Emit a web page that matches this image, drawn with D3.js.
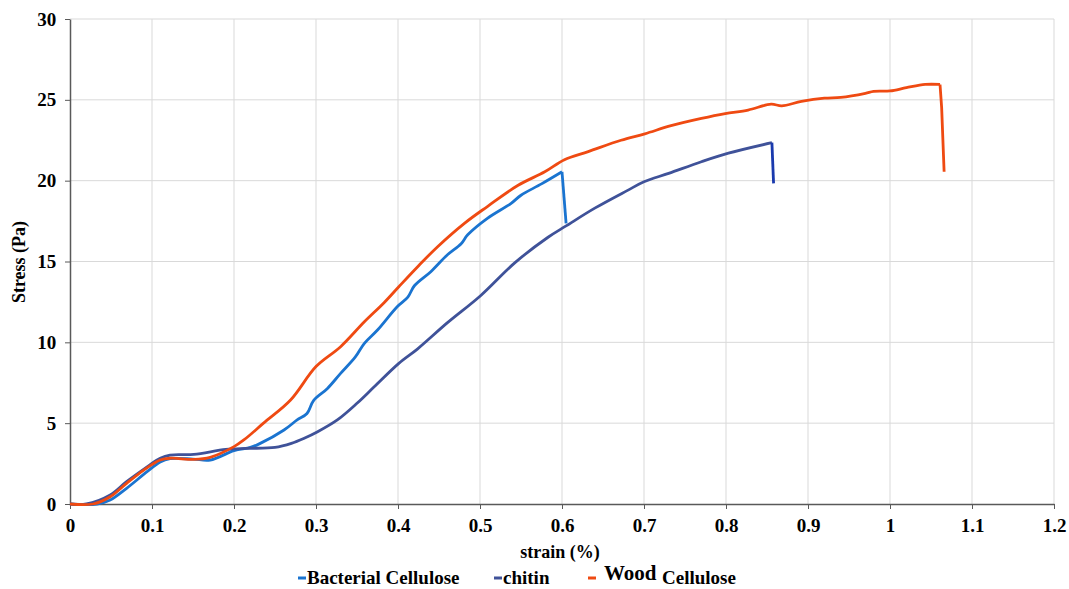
<!DOCTYPE html>
<html>
<head>
<meta charset="utf-8">
<script src="https://cdn.jsdelivr.net/npm/d3@7"></script>
<style>
  body { margin: 0; background: #fff; }
  svg text { font-family: "Liberation Serif", "Times New Roman", Tinos, "Nimbus Roman", FreeSerif, "DejaVu Serif", serif; font-weight: bold; }
</style>
</head>
<body>
<div id="chart"></div>
<script>
// chart values
const xTicks = [0, 0.1, 0.2, 0.3, 0.4, 0.5, 0.6, 0.7, 0.8, 0.9, 1, 1.1, 1.2];
const yTicks = [0, 5, 10, 15, 20, 25, 30];

const bcStrain = [0, 0.033, 0.049, 0.069, 0.094, 0.11, 0.122, 0.15, 0.171, 0.2, 0.22, 0.232, 0.261, 0.277, 0.289, 0.297, 0.314, 0.33, 0.348, 0.359, 0.375, 0.399, 0.412, 0.42, 0.44, 0.46, 0.477, 0.485, 0.509, 0.538, 0.55, 0.575, 0.6, 0.605];
const bcStress = [0, 0, 0.25, 0.97, 2.0, 2.6, 2.8, 2.78, 2.72, 3.3, 3.5, 3.75, 4.58, 5.2, 5.6, 6.4, 7.15, 8.08, 9.1, 9.94, 10.76, 12.2, 12.8, 13.5, 14.37, 15.4, 16.1, 16.65, 17.67, 18.6, 19.1, 19.8, 20.55, 17.36];

const chStrain = [0, 0.02, 0.049, 0.069, 0.094, 0.11, 0.122, 0.151, 0.19, 0.216, 0.25, 0.27, 0.285, 0.302, 0.326, 0.35, 0.371, 0.401, 0.424, 0.46, 0.501, 0.542, 0.583, 0.605, 0.64, 0.68, 0.7, 0.73, 0.77, 0.803, 0.856, 0.858];
const chStress = [0, 0, 0.56, 1.38, 2.3, 2.83, 3.03, 3.07, 3.38, 3.44, 3.5, 3.75, 4.05, 4.47, 5.2, 6.23, 7.25, 8.7, 9.6, 11.2, 12.9, 14.9, 16.5, 17.2, 18.3, 19.4, 19.93, 20.45, 21.17, 21.7, 22.35, 19.83];

const wcStrain = [0, 0.028, 0.049, 0.069, 0.09, 0.11, 0.122, 0.151, 0.171, 0.2, 0.212, 0.236, 0.269, 0.3, 0.33, 0.359, 0.383, 0.401, 0.424, 0.448, 0.481, 0.509, 0.546, 0.579, 0.603, 0.632, 0.672, 0.701, 0.733, 0.77, 0.799, 0.827, 0.855, 0.868, 0.892, 0.92, 0.94, 0.97, 0.98, 1.0, 1.02, 1.043, 1.061, 1.063, 1.066];
const wcStress = [0, 0, 0.45, 1.28, 2.1, 2.72, 2.83, 2.76, 2.89, 3.55, 3.96, 5.0, 6.43, 8.5, 9.73, 11.27, 12.45, 13.44, 14.68, 15.9, 17.36, 18.4, 19.7, 20.55, 21.3, 21.8, 22.5, 22.9, 23.4, 23.85, 24.15, 24.37, 24.73, 24.63, 24.9, 25.1, 25.15, 25.4, 25.52, 25.55, 25.75, 25.95, 25.95, 24.5, 20.55];

const seriesNames = ["Bacterial Cellulose", "chitin", "Wood Cellulose"];
const seriesColors = ["#1a74d0", "#3f5299", "#ef4a12"];
const breakColors = ["#1a74d0", "#1a3aae", "#ef4a12"];
// number of trailing points that form the fracture drop
const dropPoints = [2, 2, 3];

const width = 1069;
const height = 589;

const svg = d3.select("#chart")
  .append("svg")
  .attr("width", width)
  .attr("height", height);

const x = d3.scaleLinear().domain([0, 1.2]).range([70, 1054]);
const y = d3.scaleLinear().domain([0, 30]).range([504, 19]);

// gridlines
svg.append("g")
  .selectAll("line")
  .data(xTicks.slice(1))
  .join("line")
  .attr("x1", d => x(d)).attr("x2", d => x(d))
  .attr("y1", y(0)).attr("y2", y(30))
  .attr("stroke", "#d9d9d9").attr("stroke-width", 1);

svg.append("g")
  .selectAll("line")
  .data(yTicks.slice(1))
  .join("line")
  .attr("x1", x(0)).attr("x2", x(1.2))
  .attr("y1", d => y(d)).attr("y2", d => y(d))
  .attr("stroke", "#d9d9d9").attr("stroke-width", 1);

// axes
const xAxis = svg.append("g")
  .attr("transform", `translate(0,${y(0)})`)
  .call(d3.axisBottom(x).tickValues(xTicks).tickFormat(d3.format("")).tickSize(5).tickSizeOuter(0));

const yAxis = svg.append("g")
  .attr("transform", `translate(${x(0)},0)`)
  .call(d3.axisLeft(y).tickValues(yTicks).tickSize(5).tickSizeOuter(0));

[xAxis, yAxis].forEach(a => {
  a.attr("font-family", null).attr("font-size", null);
  a.select(".domain").attr("stroke", "#595959").attr("stroke-width", 1.5);
  a.selectAll(".tick line").attr("stroke", "#595959");
  a.selectAll(".tick text")
    .attr("fill", "#000")
    .style("font-size", "19px");
});
xAxis.selectAll(".tick text").attr("dy", "1.05em");
yAxis.selectAll(".tick text").attr("dx", "-0.3em");

// axis titles
svg.append("text")
  .attr("x", 560).attr("y", 558)
  .attr("text-anchor", "middle")
  .style("font-size", "18px")
  .text("strain (%)");

svg.append("text")
  .attr("transform", `translate(25,262) rotate(-90)`)
  .attr("text-anchor", "middle")
  .style("font-size", "18px")
  .text("Stress (Pa)");

// lines: smooth loading curve, straight fracture drop
const smooth = d3.line()
  .x(d => x(d[0]))
  .y(d => y(d[1]))
  .curve(d3.curveCatmullRom.alpha(0.5));
const straight = d3.line()
  .x(d => x(d[0]))
  .y(d => y(d[1]));

const zipped = [
  d3.zip(bcStrain, bcStress),
  d3.zip(chStrain, chStress),
  d3.zip(wcStrain, wcStress)
];

const lines = svg.append("g");
zipped.forEach((pts, i) => {
  const cut = pts.length - dropPoints[i] + 1;
  lines.append("path")
    .attr("d", smooth(pts.slice(0, cut)))
    .attr("fill", "none")
    .attr("stroke", seriesColors[i])
    .attr("stroke-width", 2.8)
    .attr("stroke-linejoin", "round");
  lines.append("path")
    .attr("d", straight(pts.slice(cut - 1)))
    .attr("fill", "none")
    .attr("stroke", breakColors[i])
    .attr("stroke-width", 2.8)
    .attr("stroke-linejoin", "round");
});

// legend
const legendX = [298, 494, 588];
const legend = svg.append("g");
seriesNames.forEach((name, i) => {
  legend.append("line")
    .attr("x1", legendX[i]).attr("x2", legendX[i] + 8)
    .attr("y1", 578).attr("y2", 578)
    .attr("stroke", seriesColors[i]).attr("stroke-width", 3);
});
legend.append("text").attr("x", 307).attr("y", 584).style("font-size", "19px").text(seriesNames[0]);
legend.append("text").attr("x", 503).attr("y", 584).style("font-size", "19px").text(seriesNames[1]);
legend.append("text").attr("x", 604).attr("y", 580).style("font-size", "21px").text("Wood");
legend.append("text").attr("x", 662).attr("y", 584).style("font-size", "19px").text("Cellulose");
</script>
</body>
</html>
